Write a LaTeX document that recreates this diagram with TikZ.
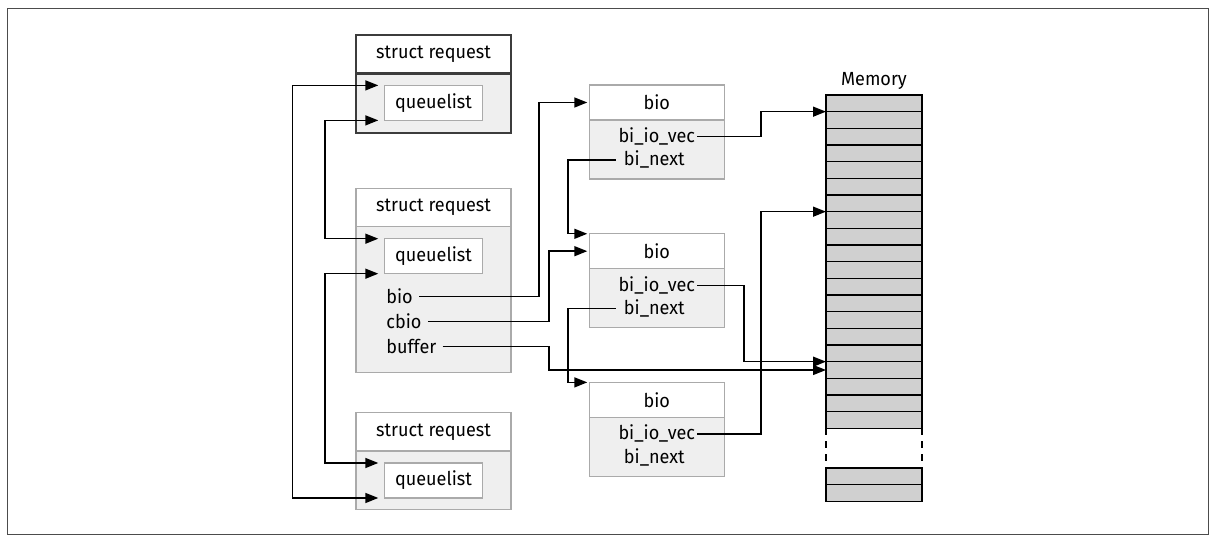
\documentclass[tikz,border=0pt]{standalone}
\usepackage{fontspec}
\setmainfont{Fira Sans}[FakeStretch=0.95]
\usetikzlibrary{arrows.meta,calc,positioning}
\definecolor{boxgray}{RGB}{170,170,170}
\definecolor{bodygray}{RGB}{239,239,239}
\definecolor{memgray}{RGB}{208,208,208}
\definecolor{darkline}{RGB}{60,60,60}
\tikzset{
  every node/.style={font=\fontsize{9.5}{11}\selectfont},
  reqhdr/.style={draw=boxgray,fill=white,line width=0.65pt,minimum width=77.5pt,minimum height=19.2pt,inner sep=0pt,outer sep=0pt},
  reqbody/.style={draw=boxgray,fill=bodygray,line width=0.65pt,minimum width=77.5pt,inner sep=0pt,outer sep=0pt},
  biohdr/.style={draw=boxgray,fill=white,line width=0.65pt,minimum width=67.5pt,minimum height=17.4pt,inner sep=0pt,outer sep=0pt},
  biobody/.style={draw=boxgray,fill=bodygray,line width=0.65pt,minimum width=67.5pt,minimum height=29.5pt,inner sep=0pt,outer sep=0pt},
  qlist/.style={draw=boxgray,fill=white,line width=0.65pt,minimum width=49.2pt,minimum height=17.5pt,inner sep=0pt,outer sep=0pt},
  heavy/.style={draw=darkline,line width=1.4pt},
  field/.style={inner sep=1pt},
  memcell/.style={draw=black,fill=memgray,line width=0.65pt,minimum width=48pt,minimum height=8.333pt,inner sep=0pt,outer sep=0pt},
  link/.style={line width=0.7pt,-{Triangle[length=6.5pt,width=5pt]}},
  dlink/.style={line width=0.7pt,{Triangle[length=6.5pt,width=5pt]}-{Triangle[length=6.5pt,width=5pt]},shorten <=3pt,shorten >=3pt}
}
\begin{document}
\begin{tikzpicture}[x=0.5pt,y=-0.5pt]
\useasboundingbox (0,0) rectangle (1217,544);
\draw[gray!60!black,line width=0.75pt] (7.3,8.7) rectangle (1208.7,534.7);
% bend columns
\coordinate (xL1) at (292.7,0);
\coordinate (xL2) at (325,0);
\coordinate (xB) at (539,0);
\coordinate (xC) at (549,0);
\coordinate (xN) at (568,0);
\coordinate (xV1) at (744,0);
\coordinate (xV2) at (761,0);
%requests
\node[reqbody,heavy,minimum height=29.8pt] (r1b) at (433.5,103.2) {};
\node[reqhdr,heavy,above=0pt of r1b] (r1h) {struct request};
\node[qlist,below=6pt of r1h] (q1) {queuelist};
\node[reqhdr] (r2h) at (433.5,207.5) {struct request};
\node[reqbody,minimum height=73pt,below=0pt of r2h] (r2b) {};
\node[qlist,below=6pt of r2h] (q2) {queuelist};
\node[field,anchor=west] (tbio) at (384,296.7) {bio};
\node[field,anchor=west] (tcbio) at (384,321.7) {cbio};
\node[field,anchor=west] (tbuf) at (384,346.7) {buffer};
\node[reqhdr] (r3h) at (433.5,431.8) {struct request};
\node[reqbody,minimum height=29.2pt,below=0pt of r3h] (r3b) {};
\node[qlist,below=6pt of r3h] (q3) {queuelist};
%bios
\foreach \k/\y in {1/102.5,2/251.2,3/399.8} {
  \node[biohdr] (b\k h) at (656.8,\y) {bio};
  \node[biobody,below=0pt of b\k h] (b\k b) {};
  \node[field] (v\k) at ($(b\k b.center)+(0,-12.8)$) {bi\_io\_vec};
  \node[field] (n\k) at ($(b\k b.center)+(-2.5,10.5)$) {bi\_next};
}
%memory
\foreach \i in {1,...,20} {
  \node[memcell] (mem\i) at (874,{95+16.667*(\i-0.5)}) {};
}
\node[memcell] (memA) at (874,476.3) {};
\node[memcell] (memB) at (874,493) {};
\draw[line width=0.65pt,dash pattern=on 3.5pt off 3pt] (mem20.south west) -- (memA.north west);
\draw[line width=0.65pt,dash pattern=on 3.5pt off 3pt] (mem20.south east) -- (memA.north east);
\node[inner sep=0pt,above=2.5pt of mem1] (memlbl) {Memory};
%queuelist links
\draw[dlink] (q1.north west) -- (q1.north west -| xL1) |- (q3.south west);
\draw[dlink] (q1.south west) -- (q1.south west -| xL2) |- (q2.north west);
\draw[dlink] (q2.south west) -- (q2.south west -| xL2) |- (q3.north west);
%request to bio
\draw[link,shorten <=2pt,shorten >=1pt] (tbio.east) -- (tbio.east -| xB) |- (b1h.west);
\draw[link,shorten <=2pt,shorten >=1pt] (tcbio.east) -- (tcbio.east -| xC) |- (b2h.west);
\draw[link,shorten <=2pt] (tbuf.east) -- (tbuf.east -| xC) |- (mem17.west);
%bi_next chain
\draw[link,shorten <=3pt,shorten >=1pt] (n1.west) -- (n1.west -| xN) |- (b2h.north west);
\draw[link,shorten <=3pt,shorten >=1pt] (n2.west) -- (n2.west -| xN) |- (b3h.north west);
%io vectors
\draw[link] (v1.east) -- (v1.east -| xV2) |- (mem1.south west);
\draw[link] (v2.east) -- (v2.east -| xV1) |- (mem16.south west);
\draw[link] (v3.east) -- (v3.east -| xV2) |- (mem7.south west);
\end{tikzpicture}
\end{document}
